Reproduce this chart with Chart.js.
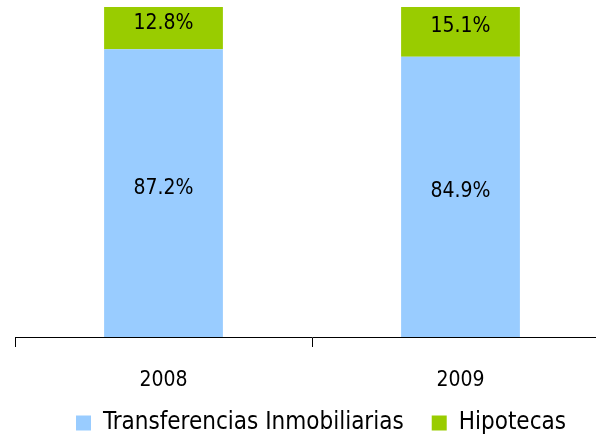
<!DOCTYPE html>
<html>
<head>
<meta charset="utf-8">
<script src="https://cdn.jsdelivr.net/npm/chart.js@4"></script>
<style>
  html, body { margin: 0; padding: 0; background: #fff; overflow: hidden; }
  #wrap { width: 640px; height: 445px; }
</style>
</head>
<body>
<div id="wrap"><canvas id="chart"></canvas></div>
<script>
const years = ["2008", "2009"];
const transferencias = [87.2, 84.9];
const hipotecas = [12.8, 15.1];

const FONT = "'DejaVu Sans Condensed', 'DejaVu Sans', sans-serif";

// values written inside each bar segment
const segmentLabels = {
  id: "segmentLabels",
  afterDatasetsDraw(chart) {
    const ctx = chart.ctx;
    ctx.save();
    ctx.font = "21px " + FONT;
    ctx.fillStyle = "#000";
    ctx.textAlign = "center";
    ctx.textBaseline = "middle";
    chart.data.datasets.forEach((ds, i) => {
      chart.getDatasetMeta(i).data.forEach((bar, j) => {
        const mid = (bar.y + bar.base) / 2;
        ctx.fillText(ds.data[j].toFixed(1) + "%", bar.x, mid - 5);
      });
    });
    ctx.restore();
  }
};

// legend takes less room, then is nudged up and right like the original
const legendPlace = {
  id: "legendPlace",
  beforeLayout(chart) {
    const lg = chart.legend;
    if (lg && !lg._patched) {
      const fit = lg.fit;
      lg.fit = function () {
        fit.call(this);
        this.height -= 10;
      };
      lg._patched = true;
    }
  },
  afterLayout(chart) {
    const lg = chart.legend;
    if (lg) {
      lg.left += 9;
      lg.right += 9;
      lg.top -= 10;
      lg.bottom -= 10;
    }
  }
};

new Chart(document.getElementById("chart"), {
  type: "bar",
  data: {
    labels: years,
    datasets: [
      {
        label: "Transferencias Inmobiliarias",
        data: transferencias,
        backgroundColor: "#99CCFF"
      },
      {
        label: "Hipotecas",
        data: hipotecas,
        backgroundColor: "#99CC00"
      }
    ]
  },
  options: {
    responsive: true,
    maintainAspectRatio: false,
    animation: false,
    barPercentage: 0.4,
    categoryPercentage: 1,
    layout: { padding: { top: 7, left: 15, right: 31, bottom: 0 } },
    plugins: {
      tooltip: { enabled: false },
      legend: {
        position: "bottom",
        labels: {
          color: "#000",
          font: { family: FONT, size: 24 },
          boxWidth: 15,
          boxHeight: 15,
          padding: 28
        }
      }
    },
    scales: {
      x: {
        stacked: true,
        afterFit(scale) {
          scale.height = 56;
        },
        grid: {
          offset: true,
          drawOnChartArea: false,
          drawTicks: true,
          tickLength: 10,
          color: "#000"
        },
        border: { display: true, color: "#000", width: 1 },
        ticks: {
          color: "#000",
          font: { family: FONT, size: 21 },
          padding: 21
        }
      },
      y: {
        stacked: true,
        display: false,
        min: 0,
        max: 100
      }
    }
  },
  plugins: [segmentLabels, legendPlace]
});
</script>
</body>
</html>
